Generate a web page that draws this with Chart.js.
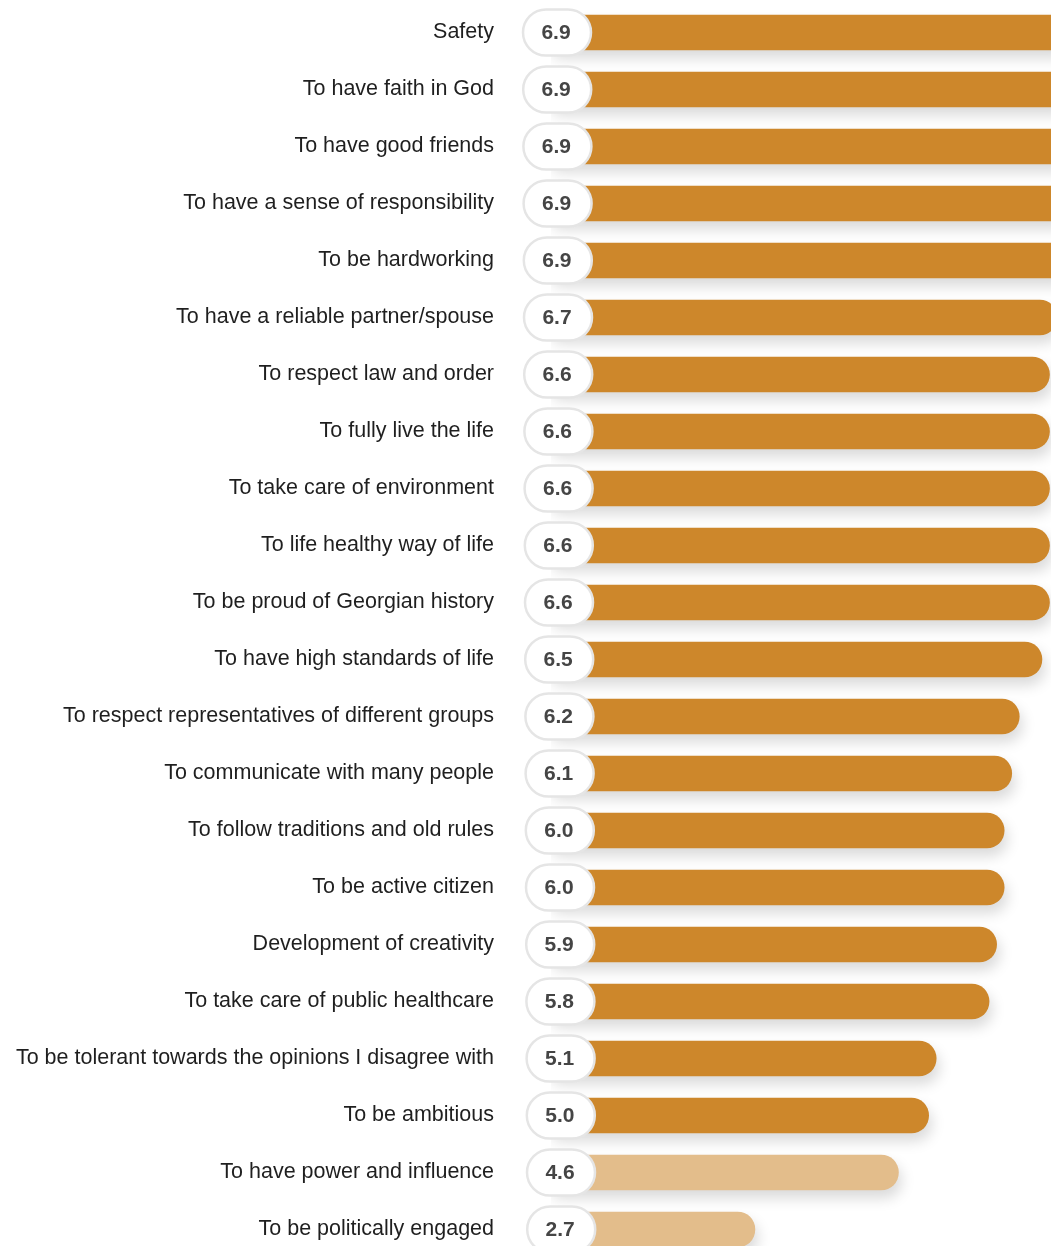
<!DOCTYPE html>
<html lang="en">
<head>
    <meta charset="UTF-8">
    <title>Values</title>
    <script src="https://cdn.jsdelivr.net/npm/chart.js@4.4.1/dist/chart.umd.min.js"></script>
    <style>
        body {
            margin: 0;
            background: #ffffff;
            overflow: hidden;
        }
        #wrap {
            width: 1051px;
            height: 1262px;
        }
    </style>
</head>
<body>
    <div id="wrap">
        <canvas id="myChart" width="1051" height="1262"></canvas>
    </div>

    <script>
        // data
        const categories = [
            'Safety',
            'To have faith in God',
            'To have good friends',
            'To have a sense of responsibility',
            'To be hardworking',
            'To have a reliable partner/spouse',
            'To respect law and order',
            'To fully live the life',
            'To take care of environment',
            'To life healthy way of life',
            'To be proud of Georgian history',
            'To have high standards of life',
            'To respect representatives of different groups',
            'To communicate with many people',
            'To follow traditions and old rules',
            'To be active citizen',
            'Development of creativity',
            'To take care of public healthcare',
            'To be tolerant towards the opinions I disagree with',
            'To be ambitious',
            'To have power and influence',
            'To be politically engaged'
        ];
        const scores = [6.9, 6.9, 6.9, 6.9, 6.9, 6.7, 6.6, 6.6, 6.6, 6.6, 6.6, 6.5,
                        6.2, 6.1, 6.0, 6.0, 5.9, 5.8, 5.1, 5.0, 4.6, 2.7];
        // the last two rows are drawn in the pale shade
        const paleRows = ['To have power and influence', 'To be politically engaged'];

        const DARK = '#cd872b';
        const PALE = '#e3bd8b';
        const FONT = "'Liberation Sans', Arial, sans-serif";

        // soft drop shadow under the bars
        const barShadow = {
            id: 'barShadow',
            beforeDatasetsDraw(chart) {
                const ctx = chart.ctx;
                ctx.save();
                ctx.shadowColor = 'rgba(0, 0, 0, 0.15)';
                ctx.shadowBlur = 14;
                ctx.shadowOffsetX = 3;
                ctx.shadowOffsetY = 8;
            },
            afterDatasetsDraw(chart) {
                chart.ctx.restore();
            }
        };

        // white rounded value pills at the start of each bar
        const valuePills = {
            id: 'valuePills',
            afterDatasetsDraw(chart) {
                const ctx = chart.ctx;
                const meta = chart.getDatasetMeta(0);
                ctx.save();
                meta.data.forEach((bar, i) => {
                    const w = 68, h = 46;
                    const x = 523 + i * 0.2, y = bar.y - h / 2;
                    ctx.beginPath();
                    ctx.roundRect(x, y, w, h, h / 2);
                    ctx.fillStyle = '#ffffff';
                    ctx.fill();
                    ctx.lineWidth = 2.5;
                    ctx.strokeStyle = '#e5e5e5';
                    ctx.stroke();
                    ctx.fillStyle = '#454545';
                    ctx.font = 'bold 21px ' + FONT;
                    ctx.textAlign = 'center';
                    ctx.textBaseline = 'middle';
                    ctx.fillText(scores[i].toFixed(1), x + w / 2 - 1, bar.y + 1);
                });
                ctx.restore();
            }
        };

        const ctx = document.getElementById('myChart').getContext('2d');
        const myChart = new Chart(ctx, {
            type: 'bar',
            data: {
                labels: categories,
                datasets: [{
                    data: scores,
                    backgroundColor: categories.map(c => paleRows.includes(c) ? PALE : DARK),
                    borderRadius: 18,
                    borderSkipped: 'start',
                    barThickness: 35
                }]
            },
            options: {
                indexAxis: 'y',
                responsive: false,
                animation: false,
                layout: { padding: { top: 4, bottom: 4, left: 0, right: 0 } },
                plugins: {
                    legend: { display: false },
                    tooltip: { enabled: false }
                },
                scales: {
                    x: {
                        display: false,
                        min: 0,
                        max: 6.62
                    },
                    y: {
                        grid: { display: false, drawTicks: true, tickLength: 52 },
                        border: { display: false },
                        afterFit(scale) {
                            scale.width = 551;
                            scale.paddingTop = 0;
                            scale.paddingBottom = 0;
                        },
                        ticks: {
                            color: '#1f1f1f',
                            padding: 5,
                            font: { family: FONT, size: 21.5 }
                        }
                    }
                }
            },
            plugins: [barShadow, valuePills]
        });
    </script>
</body>
</html>
